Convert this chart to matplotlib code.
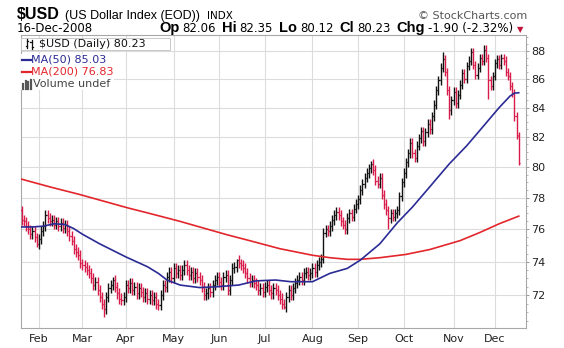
import numpy as np
import matplotlib.pyplot as plt
from matplotlib.lines import Line2D
from matplotlib.patches import Rectangle
from matplotlib.ticker import FixedLocator, FixedFormatter, NullFormatter

# Daily closes of $USD, 22-Jan-2008 .. 16-Dec-2008 (one value per trading day)
closes = [
    # Jan 22 - Jan 31
    76.6, 76.5, 76.2, 76.0, 75.7, 75.9, 75.5, 75.1,
    # Feb
    75.4, 75.9, 76.2, 76.9, 76.7, 76.5, 76.6, 76.3, 76.5, 76.2,
    76.4, 76.1, 76.3, 75.9, 75.6, 75.3, 74.8, 74.6, 74.4, 73.9,
    # Mar
    73.8, 73.7, 73.5, 73.3, 73.0, 72.6, 72.8, 72.3, 71.9, 71.5,
    71.2, 71.9, 72.4, 72.6, 72.9, 72.5, 72.1, 71.8, 71.7, 71.9,
    # Apr
    72.6, 72.4, 72.7, 72.3, 72.5, 72.1, 72.4, 72.2, 71.9, 72.1,
    71.8, 72.0, 71.7, 71.9, 71.5, 71.4, 72.0, 72.6, 72.5, 73.1, 73.4, 73.0,
    # May
    73.6, 73.3, 73.5, 73.2, 73.5, 73.8, 73.5, 73.2, 73.4, 73.0,
    73.3, 73.1, 72.9, 72.5, 72.0, 72.1, 72.4, 72.2, 72.6, 72.9, 73.1,
    # Jun
    72.8, 72.6, 73.1, 73.2, 72.3, 72.9, 73.6, 73.7, 74.1, 73.9,
    73.8, 73.6, 73.3, 73.0, 72.8, 72.9, 72.7, 72.6, 72.3, 72.4, 72.2,
    # Jul
    72.5, 72.6, 72.3, 72.1, 72.4, 72.3, 72.0, 71.8, 71.5, 71.3,
    71.9, 72.3, 72.0, 72.4, 72.7, 72.9, 73.1, 72.9, 73.3, 73.4, 73.2, 73.3,
    # Aug
    73.6, 73.4, 73.8, 74.0, 74.2, 75.8, 76.0, 75.9, 76.2, 76.6,
    76.9, 77.1, 76.9, 76.5, 76.3, 76.0, 76.7, 77.0, 76.8, 77.3, 77.6,
    # Sep
    77.9, 78.5, 78.9, 79.3, 79.6, 79.9, 80.2, 79.8, 79.1, 78.9,
    79.3, 78.2, 77.6, 77.2, 76.7, 77.0, 76.8, 77.0, 77.2, 78.1, 79.0,
    # Oct
    79.6, 80.3, 80.9, 81.6, 80.9, 80.6, 81.4, 81.9, 82.4, 81.7,
    82.3, 82.9, 82.5, 83.4, 84.2, 85.2, 85.9, 86.8, 87.4, 86.5, 85.2, 83.8, 84.5,
    # Nov
    85.1, 84.3, 84.9, 85.6, 86.4, 86.0, 86.9, 87.3, 87.9, 87.0,
    86.3, 86.8, 87.5, 87.3, 88.1, 87.5, 85.9, 85.5, 86.2,
    # Dec 1 - 16
    87.1, 87.4, 87.0, 87.5, 87.3, 86.5, 86.2, 85.5, 85.0, 83.4, 82.13, 80.23,
]
first_open = 77.2
last_ohlc = (82.06, 82.35, 80.12, 80.23)
high_marks = {42: 73.1, 99: 74.2, 161: 80.4, 194: 87.9, 207: 88.2, 213: 88.4}
low_marks = {7: 74.9, 38: 70.7, 63: 71.15, 121: 71.2, 169: 76.0, 197: 83.2, 215: 84.6}

# Moving averages, sampled along the trading-day index
ma50_idx = [0, 5, 10, 15, 20, 24, 28, 32, 36, 42, 48, 53, 58, 63, 67, 73, 82, 90,
            100, 108, 117, 124, 134, 142, 150, 156, 165, 173, 180, 188, 191, 197,
            205, 212, 220, 225, 227, 229]
ma50_val = [76.15, 76.15, 76.2, 76.35, 76.3, 76.05, 75.7, 75.4, 75.1, 74.7, 74.3,
            74.0, 73.7, 73.3, 72.9, 72.6, 72.45, 72.5, 72.6, 72.85, 72.9, 72.8,
            72.8, 73.3, 73.6, 74.1, 75.1, 76.4, 77.4, 78.7, 79.2, 80.2, 81.4,
            82.6, 84.0, 84.8, 85.0, 85.03]
ma200_idx = [0, 13, 27, 36, 49, 59, 73, 82, 95, 105, 119, 134, 142, 150, 156, 165,
             177, 188, 202, 211, 220, 229]
ma200_val = [79.2, 78.7, 78.2, 77.85, 77.35, 77.0, 76.5, 76.15, 75.65, 75.3, 74.8,
             74.4, 74.25, 74.15, 74.15, 74.25, 74.45, 74.75, 75.3, 75.8, 76.35, 76.83]

# First trading day of each month (index into closes)
month_idx = [8, 28, 48, 70, 91, 112, 134, 155, 176, 199, 218]
month_lbl = ['Feb', 'Mar', 'Apr', 'May', 'Jun', 'Jul', 'Aug', 'Sep', 'Oct', 'Nov', 'Dec']
y_ticks = [72, 74, 76, 78, 80, 82, 84, 86, 88]

UP = '#111111'
DOWN = '#d81b4a'
MA50_C = '#2b2b95'
MA200_C = '#e3262b'

W, H = 564, 348
fig = plt.figure(figsize=(W / 100, H / 100), dpi=100)
fx = lambda px: px / W
fy = lambda py: 1 - py / H

left, right, top, bottom = 20.7, 525.7, 35, 327.7
ax = fig.add_axes([fx(left), fy(bottom), fx(right - left), fy(top) - fy(bottom)])

# OHLC bars
c = np.array(closes)
n = len(c)
x = np.arange(n)
o = np.concatenate([[first_open], c[:-1]])
pad = 0.3
hi = np.maximum(o, c) + pad
lo = np.minimum(o, c) - pad
for k, v in high_marks.items():
    hi[k] = v
for k, v in low_marks.items():
    lo[k] = v
o[-1], hi[-1], lo[-1], c[-1] = last_ohlc
prev = np.concatenate([[np.inf], c[:-1]])
cols = np.where(c >= prev, UP, DOWN)

ax.vlines(x, lo, hi, colors=cols, lw=1.0, zorder=3)
ax.hlines(o, x - 0.5, x, colors=cols, lw=0.9, zorder=3)
ax.hlines(c, x, x + 0.5, colors=cols, lw=0.9, zorder=3)

ax.plot(ma200_idx, ma200_val, color=MA200_C, lw=1.2, zorder=4)
ax.plot(ma50_idx, ma50_val, color=MA50_C, lw=1.2, zorder=4)

ax.set_yscale('log')
ax.set_xlim(-0.4, 232.2)
ax.set_ylim(70.1, 89.16)

ax.yaxis.tick_right()
ax.yaxis.set_major_locator(FixedLocator(y_ticks))
ax.yaxis.set_major_formatter(FixedFormatter([str(t) for t in y_ticks]))
minor = [v for v in np.arange(70.5, 89.01, 0.5) if v not in y_ticks]
ax.yaxis.set_minor_locator(FixedLocator(minor))
ax.yaxis.set_minor_formatter(NullFormatter())
ax.tick_params(axis='y', which='major', length=2.5, width=0.7, color='#999999',
               labelsize=8, labelcolor='#222222', pad=1.5)
ax.tick_params(axis='y', which='minor', length=1.5, width=0.6, color='#aaaaaa')

ax.set_xticks(month_idx)
ax.set_xticklabels(month_lbl)
ax.tick_params(axis='x', length=0, labelsize=8, labelcolor='#222222', pad=4.5)

ax.grid(True, which='major', color='#dcdcdc', lw=0.8)
ax.set_axisbelow(True)
for s in ax.spines.values():
    s.set_color('#a8a8a8')
    s.set_linewidth(0.8)

# Header
fig.text(fx(17), fy(19), '$USD', fontsize=11.5, fontweight='bold',
         family='Liberation Sans', va='baseline')
fig.text(fx(65), fy(19), '(US Dollar Index (EOD))', fontsize=9,
         family='Liberation Sans', va='baseline')
fig.text(fx(207), fy(19), 'INDX', fontsize=7.5, va='baseline')
fig.text(fx(527), fy(19), '© StockCharts.com', fontsize=8, color='#555555',
         ha='right', va='baseline')

fig.text(fx(17), fy(32), '16-Dec-2008', fontsize=8.5, va='baseline')

# quote line: bold field names followed by values, laid out left to right
quote = [('Op', '82.06'), ('Hi', '82.35'), ('Lo', '80.12'), ('Cl', '80.23'),
         ('Chg', '-1.90 (-2.32%)')]
renderer = fig.canvas.get_renderer()
cur = 159
for name, val in quote:
    t = fig.text(fx(cur), fy(32), name, fontsize=10.5, fontweight='bold',
                 family='Liberation Sans', va='baseline')
    cur = t.get_window_extent(renderer).x1 + 3
    t = fig.text(fx(cur), fy(32), val, fontsize=8.5, va='baseline')
    cur = t.get_window_extent(renderer).x1 + 6
fig.text(fx(cur - 2), fy(32), '▼', fontsize=6, color='#c0143c', va='baseline')

# Legend block in the top-left corner of the chart
rows = [(44, 170, '$USD (Daily) 80.23', '#111111', 39),
        (60, 109, 'MA(50) 85.03', MA50_C, 31),
        (72, 116, 'MA(200) 76.83', MA200_C, 31),
        (84, 114, 'Volume undef', '#444444', 33)]
for i, (yc, xr, s, col, xt) in enumerate(rows):
    rect = Rectangle((fx(left + 0.5), fy(yc + 6)), fx(xr - left - 0.5), fy(yc - 6) - fy(yc + 6),
                     transform=fig.transFigure, facecolor='white',
                     edgecolor='#c8c8c8' if i == 0 else 'none', lw=0.7, zorder=3)
    fig.add_artist(rect)
    fig.text(fx(xt), fy(yc), s, fontsize=8, color=col, va='center', zorder=5)

def fig_line(xs, ys, color, lw):
    fig.add_artist(Line2D([fx(v) for v in xs], [fy(v) for v in ys], color=color,
                          lw=lw, transform=fig.transFigure, zorder=4))

# small OHLC glyph
fig_line([27, 27], [39, 48], '#111111', 0.9)
fig_line([25.5, 27], [46, 46], '#111111', 0.9)
fig_line([27, 28.5], [41, 41], '#111111', 0.9)
fig_line([31.5, 31.5], [40, 49], '#111111', 0.9)
fig_line([30, 31.5], [42, 42], '#111111', 0.9)
fig_line([31.5, 33], [47, 47], '#111111', 0.9)
fig_line([22, 30.5], [60, 60], MA50_C, 1.6)
fig_line([22, 30.5], [72, 72], MA200_C, 1.6)
for bx, bt in [(23, 84), (25.5, 81), (28, 82), (30.5, 80)]:
    fig_line([bx, bx], [bt, 89], '#555555', 1.6)

fig.savefig('out.png', dpi=100)
